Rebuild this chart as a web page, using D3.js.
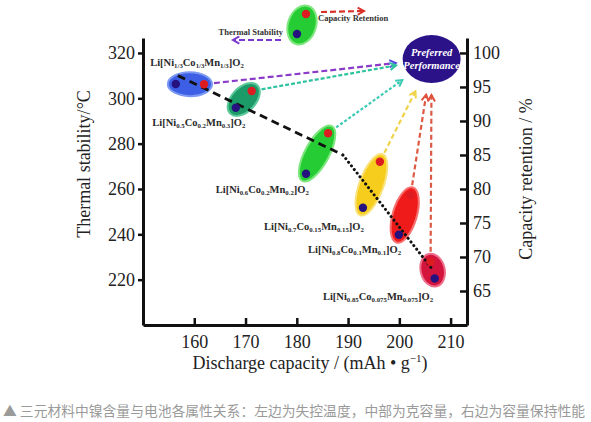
<!DOCTYPE html>
<html>
<head>
<meta charset="utf-8">
<script src="https://cdn.jsdelivr.net/npm/d3@7"></script>
<style>
  body { margin: 0; background: #fff; }
  svg text { font-family: "Liberation Serif", "Times New Roman", serif; }
</style>
</head>
<body>
<script>
// materials (Ni content increasing)
var niSub  = ["1/3", "0.5", "0.6", "0.7", "0.8", "0.85"];
var coSub  = ["1/3", "0.2", "0.2", "0.15", "0.1", "0.075"];
var mnSub  = ["1/3", "0.3", "0.2", "0.15", "0.1", "0.075"];

// blue dots: thermal stability (left axis) vs discharge capacity
var thermalCap  = [156.4, 168.1, 181.8, 192.9, 199.9, 206.9];
var thermalTemp = [306.3, 295.8, 266.7, 251.7, 239.8, 220.5];

// red dots: capacity retention (right axis) vs discharge capacity
var retentionCap = [161.9, 171.2, 186.1, 196.2, 202.2, 206.1];
var retentionPct = [95.4, 94.4, 88.2, 84.0, 79.1, 69.3];

// label anchors (capacity, temperature)
var labelCap  = [151.4, 151.8, 164.2, 173.6, 182.2, 185.1];
var labelTemp = [314.3, 287.8, 258.3, 242.0, 231.9, 211.2];

// black trend line, dashed then dotted
var trendCap  = [156.8, 189.0, 206.3];
var trendTemp = [310.0, 275.0, 225.0];

// "Preferred Performance" target
var targetCap = 206.3, targetPct = 99.1;

var xTicks  = [160, 170, 180, 190, 200, 210];
var yLTicks = [220, 240, 260, 280, 300, 320];
var yRTicks = [65, 70, 75, 80, 85, 90, 95, 100];

var ellipseFill = ["#3d5fe6", "#1c9a68", "#25cc33", "#f6cd1c", "#ef1b1b", "#d3143d"];
var ellipseEdge = ["#7b98f2", "#5cc89a", "#7ee67e", "#fae27a", "#f77070", "#ee6f8a"];
var arrowColor  = ["#8a3cc8", "#2fc2a0", "#3ccab4", "#efd34a", "#dc5a44", "#dc5a44"];
var headColor   = ["#5a4ae0", "#2fc2a0", "#3ccab4", "#efd34a", "#e0503c", "#e0503c"];
var arrowDash   = ["6,3", "4,2", "3,2", "5,3", "5,3", "5,3"];

var width = 591, height = 422;
var svg = d3.select("body").append("svg")
    .attr("width", width)
    .attr("height", height);

var x  = d3.scaleLinear().domain([150, 213.2]).range([143, 467]);
var yL = d3.scaleLinear().domain([200, 326.6]).range([325, 38]);
var yR = d3.scaleLinear().domain([60, 102.2]).range([325, 38]);

// markers (chevron arrow heads)
var defs = svg.append("defs");
function marker(id, color) {
    defs.append("marker")
        .attr("id", id)
        .attr("viewBox", "0 0 10 10")
        .attr("refX", 8).attr("refY", 5)
        .attr("markerWidth", 9).attr("markerHeight", 9)
        .attr("markerUnits", "userSpaceOnUse")
        .attr("orient", "auto")
        .append("path")
        .attr("d", "M1,1 L8,5 L1,9")
        .attr("fill", "none")
        .attr("stroke", color)
        .attr("stroke-width", 2.2);
}
headColor.forEach(function (c, i) { marker("head" + i, c); });
marker("headLegRed", "#d8332a");
marker("headLegPurple", "#7a38d0");

// axes
function styleAxis(g) {
    g.select(".domain").attr("stroke", "#111").attr("stroke-width", 3);
    g.selectAll(".tick line").attr("stroke", "#111").attr("stroke-width", 2.5);
    g.selectAll(".tick text").style("font-size", "18px").attr("fill", "#222")
        .style("font-family", "'Liberation Serif', serif");
}

var gx = svg.append("g").attr("transform", "translate(0,325)")
    .call(d3.axisBottom(x).tickValues(xTicks).tickSizeInner(-7).tickSizeOuter(0).tickPadding(10));
styleAxis(gx);

var gl = svg.append("g").attr("transform", "translate(143,0)")
    .call(d3.axisLeft(yL).tickValues(yLTicks).tickSizeInner(5).tickSizeOuter(0).tickPadding(3));
styleAxis(gl);

var gr = svg.append("g").attr("transform", "translate(467,0)")
    .call(d3.axisRight(yR).tickValues(yRTicks).tickSizeInner(-7).tickSizeOuter(0).tickPadding(6));
styleAxis(gr);

// axis titles
svg.append("text")
    .attr("x", 310).attr("y", 369)
    .attr("text-anchor", "middle")
    .style("font-size", "18px").attr("fill", "#222")
    .text("Discharge capacity / (mAh \u2022 g")
    .append("tspan").attr("dy", -7).style("font-size", "11px").text("\u22121")
    .select(function () { return this.parentNode; })
    .append("tspan").attr("dy", 7).style("font-size", "18px").text(")");

svg.append("text")
    .attr("transform", "translate(90,164) rotate(-90)")
    .attr("text-anchor", "middle")
    .style("font-size", "18px").attr("fill", "#222")
    .text("Thermal stability/\u00b0C");

svg.append("text")
    .attr("transform", "translate(532,179) rotate(-90)")
    .attr("text-anchor", "middle")
    .style("font-size", "18px").attr("fill", "#222")
    .text("Capacity retention / %");

// ellipses around each pair of dots
var idx = d3.range(thermalCap.length);
var pairs = idx.map(function (i) {
    var bx = x(thermalCap[i]), by = yL(thermalTemp[i]);
    var rx = x(retentionCap[i]), ry = yR(retentionPct[i]);
    var d = Math.sqrt((rx - bx) * (rx - bx) + (ry - by) * (ry - by));
    return {
        bx: bx, by: by, rx: rx, ry: ry,
        cx: (bx + rx) / 2, cy: (by + ry) / 2,
        len: d, ang: Math.atan2(ry - by, rx - bx) * 180 / Math.PI
    };
});

svg.append("g").selectAll("ellipse")
    .data(pairs)
    .join("ellipse")
    .attr("transform", function (p) { return "translate(" + p.cx + "," + p.cy + ") rotate(" + p.ang + ")"; })
    .attr("rx", function (p) { return p.len / 2 + 8; })
    .attr("ry", 12)
    .attr("fill", function (p, i) { return ellipseFill[i]; })
    .attr("stroke", function (p, i) { return ellipseEdge[i]; })
    .attr("stroke-width", 2);

// trend line
var trendLine = d3.line()
    .x(function (d) { return x(d[0]); })
    .y(function (d) { return yL(d[1]); });
var trend = trendCap.map(function (c, i) { return [c, trendTemp[i]]; });

svg.append("path")
    .attr("d", trendLine(trend.slice(0, 2)))
    .attr("fill", "none").attr("stroke", "#111")
    .attr("stroke-width", 2.8).attr("stroke-dasharray", "8,5");
svg.append("path")
    .attr("d", trendLine(trend.slice(1)))
    .attr("fill", "none").attr("stroke", "#111")
    .attr("stroke-width", 3).attr("stroke-dasharray", "0.1,4.5")
    .attr("stroke-linecap", "round");

// dots
svg.append("g").selectAll("circle.ret")
    .data(pairs)
    .join("circle")
    .attr("class", "ret")
    .attr("cx", function (p) { return p.rx; })
    .attr("cy", function (p) { return p.ry; })
    .attr("r", 4.2)
    .attr("fill", "#dd1c22");
svg.append("g").selectAll("circle.th")
    .data(pairs)
    .join("circle")
    .attr("class", "th")
    .attr("cx", function (p) { return p.bx; })
    .attr("cy", function (p) { return p.by; })
    .attr("r", 4.2)
    .attr("fill", "#25127e");

// preferred performance target
var tx = x(targetCap), ty = yR(targetPct);
svg.append("ellipse")
    .attr("cx", tx).attr("cy", ty)
    .attr("rx", 29).attr("ry", 24)
    .attr("fill", "#2c1289");
svg.append("text")
    .attr("x", tx).attr("y", ty - 3)
    .attr("text-anchor", "middle")
    .style("font-size", "10.5px").style("font-weight", "bold").style("font-style", "italic")
    .attr("fill", "#fff")
    .text("Preferred");
svg.append("text")
    .attr("x", tx).attr("y", ty + 10)
    .attr("text-anchor", "middle")
    .style("font-size", "10.5px").style("font-weight", "bold").style("font-style", "italic")
    .attr("fill", "#fff")
    .text("Performance");

// arrows from red dots to the target
svg.append("g").selectAll("line")
    .data(pairs)
    .join("line")
    .each(function (p, i) {
        var dx = tx - p.rx, dy = ty - p.ry;
        var n = Math.sqrt(dx * dx + dy * dy);
        var ux = dx / n, uy = dy / n;
        d3.select(this)
            .attr("x1", p.rx + ux * 10).attr("y1", p.ry + uy * 10)
            .attr("x2", tx - ux * 36).attr("y2", ty - uy * 36)
            .attr("stroke", arrowColor[i])
            .attr("stroke-width", 2.2)
            .attr("stroke-dasharray", arrowDash[i])
            .attr("marker-end", "url(#head" + i + ")");
    });

// compound labels
var labels = svg.append("g").selectAll("text")
    .data(idx)
    .join("text")
    .attr("x", function (i) { return x(labelCap[i]); })
    .attr("y", function (i) { return yL(labelTemp[i]); })
    .style("font-size", "10.5px").style("font-weight", "bold")
    .attr("fill", "#2a2a2a");
labels.each(function (i) {
    var t = d3.select(this);
    var parts = [["Li[Ni", 0], [niSub[i], 1], ["Co", 0], [coSub[i], 1],
                 ["Mn", 0], [mnSub[i], 1], ["]O", 0], ["2", 1]];
    var shift = 0;
    parts.forEach(function (p) {
        var dy = p[1] ? 2.5 - shift : -shift;
        shift = p[1] ? 2.5 : 0;
        t.append("tspan")
            .attr("dy", dy)
            .style("font-size", p[1] ? "6.8px" : "10.5px")
            .text(p[0]);
    });
});

// legend at the top
var leg = svg.append("g");
leg.append("ellipse")
    .attr("transform", "translate(302,25) rotate(18)")
    .attr("rx", 14).attr("ry", 20)
    .attr("fill", "#25cc33").attr("stroke", "#7ee67e").attr("stroke-width", 2);
leg.append("circle").attr("cx", 306).attr("cy", 14).attr("r", 4.2).attr("fill", "#dd1c22");
leg.append("circle").attr("cx", 297).attr("cy", 34).attr("r", 4.2).attr("fill", "#25127e");
leg.append("line")
    .attr("x1", 321).attr("y1", 12).attr("x2", 364).attr("y2", 11)
    .attr("stroke", "#d8332a").attr("stroke-width", 2.2).attr("stroke-dasharray", "6,3")
    .attr("marker-end", "url(#headLegRed)");
leg.append("line")
    .attr("x1", 281).attr("y1", 40).attr("x2", 233).attr("y2", 40)
    .attr("stroke", "#7a38d0").attr("stroke-width", 2.2).attr("stroke-dasharray", "6,3")
    .attr("marker-end", "url(#headLegPurple)");
leg.append("text")
    .attr("x", 318).attr("y", 21)
    .style("font-size", "8.5px").style("font-weight", "bold").attr("fill", "#333")
    .text("Capacity Retention");
leg.append("text")
    .attr("x", 283).attr("y", 35)
    .attr("text-anchor", "end")
    .style("font-size", "8.5px").style("font-weight", "bold").attr("fill", "#333")
    .text("Thermal Stability");

// caption
svg.append("text")
    .attr("x", 3).attr("y", 416)
    .style("font-family", "'Noto Sans CJK SC', sans-serif")
    .style("font-size", "13.8px")
    .attr("textLength", 582)
    .attr("lengthAdjust", "spacingAndGlyphs")
    .attr("fill", "#9a9a9a")
    .text("\u25b2 三元材料中镍含量与电池各属性关系：左边为失控温度，中部为克容量，右边为容量保持性能");
</script>
</body>
</html>
